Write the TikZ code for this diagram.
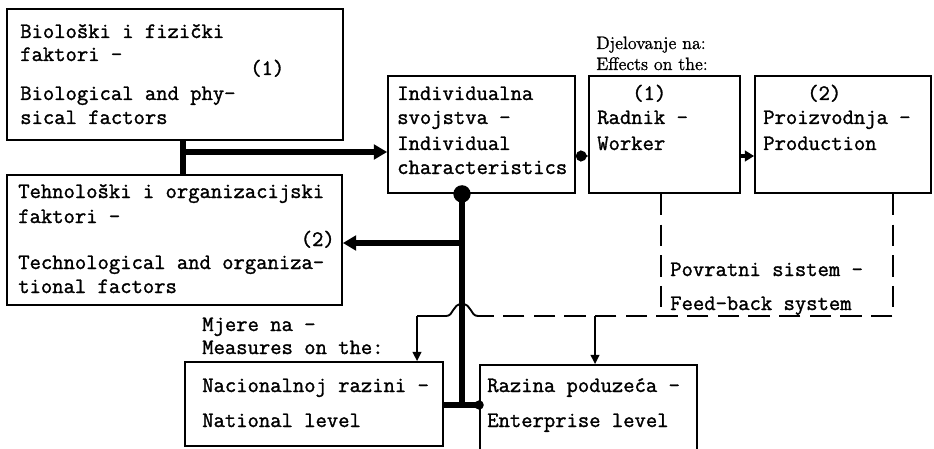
\documentclass[tikz,border=0pt]{standalone}
\usepackage{fontspec}
\usetikzlibrary{arrows.meta,fit}
% slightly heavier typewriter face for the box texts, and a serif face for captions
\newfontfamily\twfont{Latin Modern Mono}[FakeBold=1.4]
\newfontfamily\capfam{Latin Modern Roman}[FakeBold=1.2]
\newcommand\typewr{\twfont\fontsize{16.5}{20}\selectfont}
\newcommand\capfont{\capfam\fontsize{13.5}{15}\selectfont}
\begin{document}
\begin{tikzpicture}[x=0.75pt,y=-0.75pt,
  framebox/.style={draw,line width=1.3pt,inner sep=0pt,fit={#1}},
  txt/.style={anchor=base west,inner sep=0pt,font=\typewr},
  captxt/.style={anchor=base west,inner sep=0pt,font=\capfont},
  heavy/.style={line width=5pt},
  midline/.style={line width=2.6pt},
  fbline/.style={line width=1.4pt,dash pattern=on 16pt off 7pt},
  thinline/.style={line width=1.4pt},
  bigtip/.style={-{Triangle[length=10pt,width=11pt]}},
  smalltip/.style={-{Triangle[length=7pt,width=6.5pt]}},
  blob/.style={fill,circle,inner sep=0pt,minimum size=#1}]
\useasboundingbox (0,0) rectangle (934,449);
\begin{scope}
\clip (0,0) rectangle (934,449);

% ---------- boxes ----------
\node[framebox={(7,9) (343,140)}]    (bio)  {};
\node[framebox={(7,175) (342,305)}]  (tech) {};
\node[framebox={(388,76) (575,193)}] (ind)  {};
\node[framebox={(589,76) (740,193)}] (wrk)  {};
\node[framebox={(755,76) (931,193)}] (prod) {};
\node[framebox={(185,362) (443,446)}] (nat) {};
\node[framebox={(480,365) (697,455)}] (ent) {};

% ---------- box texts ----------
\node[txt] (b1) at (20,38)  {Biološki i fizički};
\node[txt] (b2) at (20,61)  {faktori -};
\node[txt] (b3) at (250,75) {(1)};
\node[txt] (b4) at (20,100) {Biological and phy-};
\node[txt] (b5) at (20,124) {sical factors};

\node[txt] (t1) at (18,198) {Tehnološki i organizacijski};
\node[txt] (t2) at (18,223) {faktori -};
\node[txt,anchor=base east] (t3) at (335,246) {(2)};
\node[txt] (t4) at (18,269) {Technological and organiza-};
\node[txt] (t5) at (18,293) {tional factors};

\node[txt] (i1) at (397,100) {Individualna};
\node[txt] (i2) at (397,124) {svojstva -};
\node[txt] (i3) at (397,150) {Individual};
\node[txt] (i4) at (397,174) {characteristics};

\node[txt] (w1) at (632,100) {(1)};
\node[txt] (w2) at (597,124) {Radnik -};
\node[txt] (w3) at (597,150) {Worker};

\node[txt] (p1) at (807,100) {(2)};
\node[txt] (p2) at (763,124) {Proizvodnja -};
\node[txt] (p3) at (763,150) {Production};

\node[txt] (n1) at (202,392) {Nacionalnoj razini -};
\node[txt] (n2) at (202,427) {National level};

\node[txt] (e1) at (487,392) {Razina poduzeća -};
\node[txt] (e2) at (487,427) {Enterprise level};

% ---------- free captions ----------
\node[captxt] (d1) at (596,49) {Djelovanje na:};
\node[captxt] (d2) at (596,70) {Effects on the:};
\node[txt] (f1) at (670,276) {Povratni sistem -};
\node[txt] (f2) at (670,310) {Feed-back system};
\node[txt] (m1) at (202,331) {Mjere na -};
\node[txt] (m2) at (202,354) {Measures on the:};

% ---------- feedback loop (dashed) ----------
\coordinate (fl) at (661,316);
\coordinate (fr) at (893,316);
\coordinate (hopR) at (478,316);
\coordinate (hopL) at (446,316);
\coordinate (dn) at (417,316);
\coordinate (de) at (595,316);
\draw[fbline] (wrk.south -| fl) -- (fl);
\draw[fbline] (prod.south -| fr) -- (fr) -- (hopR);
\draw[thinline] (hopR) .. controls (470,316) and (472,304) .. (462,304)
                       .. controls (452,304) and (454,316) .. (hopL) -- (dn);
\draw[thinline,smalltip] (dn) -- (nat.north -| dn);
\draw[thinline,smalltip] (de) -- (ent.north -| de);

% ---------- thick connectors ----------
\coordinate (jb) at (183,152);
\draw[heavy] (bio.south -| jb) -- (tech.north -| jb);
\draw[heavy,bigtip] (jb) -- (ind.west |- jb);

\coordinate (ttop) at (ind.south -| 462,0);
\coordinate (tbot) at (462,405);
\coordinate (tt) at (462,243);
\draw[heavy] (ttop) -- (tbot);
\draw[heavy,bigtip] (tt) -- (tech.east |- tt);
\draw[heavy] (nat.east |- tbot) -- (ent.west |- tbot);
\node[blob=13pt] (dtop) at (ttop) {};
\node[blob=7pt] (dbot) at (ent.west |- tbot) {};

% ---------- worker / production chain ----------
\coordinate (cw) at (0,156);
\draw[midline,{Circle[length=8pt]}-{Triangle[length=6pt,width=8pt]}]
  (ind.east |- cw) -- (wrk.west |- cw);
\draw[midline,-{Triangle[length=7pt,width=8pt]}] (wrk.east |- cw) -- (prod.west |- cw);
\end{scope}
\end{tikzpicture}
\end{document}
